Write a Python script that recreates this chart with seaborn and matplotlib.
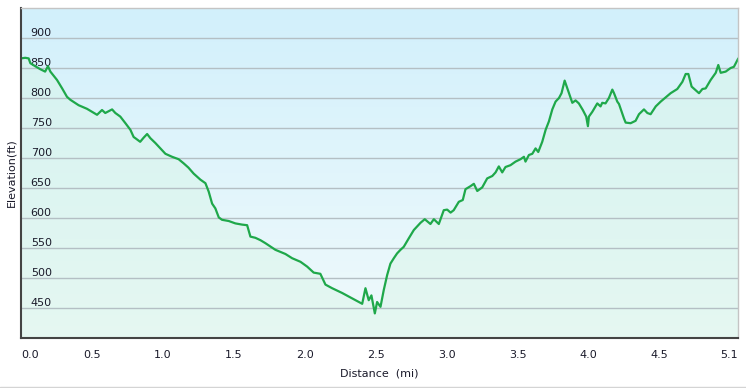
import numpy as np
import pandas as pd
import matplotlib
matplotlib.use('Agg')
import matplotlib.pyplot as plt
import seaborn as sns
from matplotlib.colors import LinearSegmentedColormap

# Elevation profile
distance_mi = [
    0.0, 0.03, 0.054, 0.066, 0.10, 0.136, 0.17, 0.19, 0.207, 0.254, 0.29, 0.324,
    0.348, 0.406, 0.465, 0.536, 0.571, 0.594, 0.642, 0.665, 0.70, 0.736, 0.771,
    0.794, 0.806, 0.84, 0.865, 0.889, 0.912, 0.947, 0.982, 1.018, 1.065, 1.111,
    1.147, 1.18, 1.217, 1.264, 1.30, 1.323, 1.347, 1.37, 1.394, 1.417, 1.464,
    1.511, 1.558, 1.594, 1.617, 1.652, 1.688, 1.723, 1.793, 1.864, 1.911, 1.97,
    2.017, 2.063, 2.11, 2.146, 2.193, 2.264, 2.334, 2.405, 2.428, 2.451, 2.47,
    2.494, 2.51, 2.534, 2.557, 2.581, 2.604, 2.628, 2.651, 2.675, 2.698, 2.733,
    2.769, 2.816, 2.846, 2.886, 2.91, 2.945, 2.98, 3.004, 3.028, 3.05, 3.086,
    3.114, 3.133, 3.168, 3.192, 3.216, 3.251, 3.286, 3.322, 3.345, 3.368, 3.392,
    3.415, 3.45, 3.486, 3.521, 3.545, 3.556, 3.58, 3.604, 3.627, 3.646, 3.674,
    3.698, 3.721, 3.745, 3.768, 3.792, 3.81, 3.832, 3.858, 3.886, 3.909, 3.932,
    3.96, 3.984, 3.996, 4.003, 4.027, 4.062, 4.085, 4.097, 4.12, 4.144, 4.168,
    4.18, 4.203, 4.215, 4.235, 4.25, 4.262, 4.297, 4.332, 4.356, 4.391, 4.415,
    4.438, 4.474, 4.509, 4.544, 4.579, 4.626, 4.662, 4.685, 4.704, 4.727, 4.756,
    4.779, 4.803, 4.826, 4.861, 4.897, 4.915, 4.932, 4.967, 5.002, 5.025, 5.056,
]
elevation_ft = [
    866, 867, 866, 858, 853, 848, 844, 853, 844, 830, 816, 802,
    797, 788, 782, 772, 780, 775, 781, 775, 769, 758, 747,
    735, 733, 727, 734, 740, 733, 725, 716, 707, 702, 698,
    691, 684, 674, 664, 658, 644, 624, 616, 601, 597, 595,
    591, 589, 588, 569, 567, 563, 558, 547, 540, 533, 527,
    519, 509, 507, 489, 483, 475, 466, 457, 483, 463, 471,
    441, 460, 452, 480, 505, 524, 533, 541, 547, 552, 566,
    580, 592, 598, 590, 598, 590, 613, 614, 609, 613, 627,
    630, 648, 653, 657, 645, 651, 666, 670, 676, 686, 676,
    685, 688, 694, 698, 702, 694, 705, 707, 716, 710, 727,
    747, 761, 781, 794, 800, 808, 829, 811, 792, 796, 791,
    780, 769, 753, 769, 777, 791, 786, 792, 791, 800, 814,
    808, 794, 790, 776, 766, 759, 758, 762, 773, 781, 775,
    773, 786, 794, 801, 808, 815, 827, 840, 840, 819, 813,
    808, 815, 816, 830, 842, 855, 842, 844, 850, 852, 866,
]

y_ticks = [450, 500, 550, 600, 650, 700, 750, 800, 850, 900]
x_ticks = [0.0, 0.5, 1.0, 1.5, 2.0, 2.5, 3.0, 3.5, 4.0, 4.5, 5.056]
x_tick_labels = ['0.0', '0.5', '1.0', '1.5', '2.0', '2.5', '3.0', '3.5', '4.0', '4.5', '5.1']

df = pd.DataFrame({'distance': distance_mi, 'elevation': elevation_ft})

sns.set_style('white')
plt.rcParams['font.family'] = ['DejaVu Sans']

fig = plt.figure(figsize=(7.46, 3.88), dpi=100)
ax = fig.add_axes([21 / 746, 1 - 338 / 388, (738.3 - 21) / 746, (338 - 8) / 388])
ax.set_axisbelow(False)

x_max = 5.056
y_min, y_max = 400, 950

# background gradient, light blue at top to pale at bottom
bg = LinearSegmentedColormap.from_list('bg', ['#f0fafc', '#d2f0fb'])
grad = np.linspace(0, 1, 256).reshape(-1, 1)
ax.imshow(grad, aspect='auto', cmap=bg, origin='lower',
          extent=[0, x_max, y_min, y_max], zorder=0)

# mint fill under the profile
ax.fill_between(df['distance'], df['elevation'], y_min,
                color='#d6f5e4', alpha=0.4, lw=0, zorder=1)

for t in y_ticks:
    ax.axhline(t, color='#b4bfc4', lw=1.0, zorder=2)

sns.lineplot(data=df, x='distance', y='elevation', ax=ax,
             color='#1fa84a', lw=1.6, zorder=3)

ax.set_xlim(0, x_max)
ax.set_ylim(y_min, y_max)

ax.set_xticks(x_ticks)
ax.set_xticklabels(x_tick_labels)
ax.set_yticks(y_ticks)
ax.set_yticklabels([str(t) for t in y_ticks])

ax.tick_params(axis='x', direction='out', length=5, width=1, color='#333333',
               pad=4, labelsize=8, labelcolor='#1a1a2a')
ax.tick_params(axis='y', length=0, pad=-7, labelsize=8, labelcolor='#1a1a2a')
for lab in ax.get_yticklabels():
    lab.set_horizontalalignment('left')
    lab.set_verticalalignment('bottom')
xl = ax.get_xticklabels()
xl[0].set_horizontalalignment('left')
xl[-1].set_horizontalalignment('right')

ax.set_xlabel('Distance  (mi)', fontsize=8, color='#1a1a2a', labelpad=6)
ax.set_ylabel('Elevation(ft)', fontsize=8, color='#1a1a2a', labelpad=3)

for side in ['top', 'right']:
    ax.spines[side].set_color('#c4c4c4')
    ax.spines[side].set_linewidth(1)
for side in ['left', 'bottom']:
    ax.spines[side].set_color('#444444')
    ax.spines[side].set_linewidth(1.5)
for s in ax.spines.values():
    s.set_zorder(5)

# thin frame line along the bottom of the image
fig.add_artist(plt.Line2D([0, 1], [0.003, 0.003], color='#d4d4d4', lw=1,
                          transform=fig.transFigure))

fig.savefig('out.png', dpi=100)
